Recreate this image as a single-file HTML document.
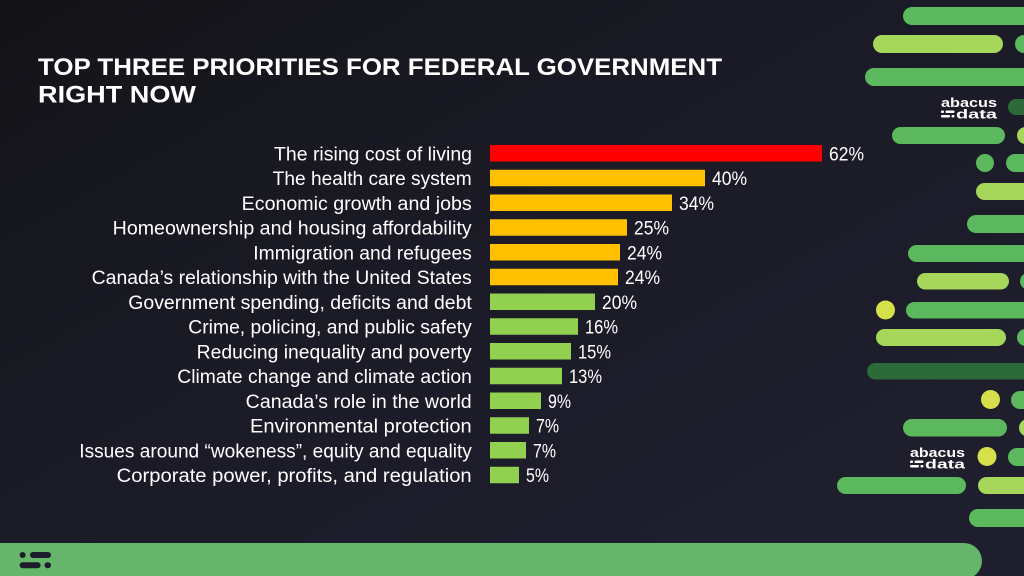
<!DOCTYPE html>
<html>
<head>
<meta charset="utf-8">
<style>
html,body{margin:0;padding:0;width:1024px;height:576px;overflow:hidden;background:#1c1c2a;}
svg{display:block;}
</style>
</head>
<body>
<svg width="1024" height="576" viewBox="0 0 1024 576" xmlns="http://www.w3.org/2000/svg">
  <defs>
    <linearGradient id="bg" x1="0" y1="0" x2="1" y2="1">
      <stop offset="0" stop-color="#131317"/>
      <stop offset="0.45" stop-color="#1b1b27"/>
      <stop offset="1" stop-color="#1f1f2f"/>
    </linearGradient>
  </defs>
  <rect x="0" y="0" width="1024" height="576" fill="url(#bg)"/>

  <!-- Title -->
  <g font-family="'Liberation Sans', sans-serif" font-weight="bold" fill="#ffffff" font-size="24">
    <text x="38" y="75" textLength="684" lengthAdjust="spacingAndGlyphs">TOP THREE PRIORITIES FOR FEDERAL GOVERNMENT</text>
    <text x="38" y="102.5" textLength="158" lengthAdjust="spacingAndGlyphs">RIGHT NOW</text>
  </g>

  <!-- Bars -->
  <g>
    <rect x="490" y="145" width="332" height="16.5" fill="#ff0000"/>
    <rect x="490" y="169.75" width="215" height="16.5" fill="#ffc000"/>
    <rect x="490" y="194.5" width="182" height="16.5" fill="#ffc000"/>
    <rect x="490" y="219.25" width="137" height="16.5" fill="#ffc000"/>
    <rect x="490" y="244" width="130" height="16.5" fill="#ffc000"/>
    <rect x="490" y="268.75" width="128" height="16.5" fill="#ffc000"/>
    <rect x="490" y="293.5" width="105" height="16.5" fill="#92d050"/>
    <rect x="490" y="318.25" width="88" height="16.5" fill="#92d050"/>
    <rect x="490" y="343" width="81" height="16.5" fill="#92d050"/>
    <rect x="490" y="367.75" width="72" height="16.5" fill="#92d050"/>
    <rect x="490" y="392.5" width="51" height="16.5" fill="#92d050"/>
    <rect x="490" y="417.25" width="39" height="16.5" fill="#92d050"/>
    <rect x="490" y="442" width="36" height="16.5" fill="#92d050"/>
    <rect x="490" y="466.75" width="29" height="16.5" fill="#92d050"/>
  </g>

  <!-- Category labels -->
  <g font-family="'Liberation Sans', sans-serif" fill="#ffffff" font-size="19">
    <text x="274" y="160.3" textLength="198" lengthAdjust="spacingAndGlyphs">The rising cost of living</text>
    <text x="272.7" y="185" textLength="199" lengthAdjust="spacingAndGlyphs">The health care system</text>
    <text x="241.7" y="209.8" textLength="230" lengthAdjust="spacingAndGlyphs">Economic growth and jobs</text>
    <text x="112.7" y="234.5" textLength="359" lengthAdjust="spacingAndGlyphs">Homeownership and housing affordability</text>
    <text x="253.3" y="259.3" textLength="218.5" lengthAdjust="spacingAndGlyphs">Immigration and refugees</text>
    <text x="91.7" y="284" textLength="380" lengthAdjust="spacingAndGlyphs">Canada’s relationship with the United States</text>
    <text x="128.3" y="308.8" textLength="343.5" lengthAdjust="spacingAndGlyphs">Government spending, deficits and debt</text>
    <text x="188.3" y="333.5" textLength="283.5" lengthAdjust="spacingAndGlyphs">Crime, policing, and public safety</text>
    <text x="196.7" y="358.3" textLength="275" lengthAdjust="spacingAndGlyphs">Reducing inequality and poverty</text>
    <text x="177.3" y="383" textLength="294.5" lengthAdjust="spacingAndGlyphs">Climate change and climate action</text>
    <text x="245.7" y="407.8" textLength="226" lengthAdjust="spacingAndGlyphs">Canada’s role in the world</text>
    <text x="250" y="432.5" textLength="221.7" lengthAdjust="spacingAndGlyphs">Environmental protection</text>
    <text x="79.3" y="457.3" textLength="392.5" lengthAdjust="spacingAndGlyphs">Issues around “wokeness”, equity and equality</text>
    <text x="116.7" y="482" textLength="355" lengthAdjust="spacingAndGlyphs">Corporate power, profits, and regulation</text>
  </g>

  <!-- Value labels -->
  <g font-family="'Liberation Sans', sans-serif" fill="#ffffff" font-size="19">
    <text x="829" y="160.3" textLength="35" lengthAdjust="spacingAndGlyphs">62%</text>
    <text x="712" y="185" textLength="35" lengthAdjust="spacingAndGlyphs">40%</text>
    <text x="679" y="209.8" textLength="35" lengthAdjust="spacingAndGlyphs">34%</text>
    <text x="634" y="234.5" textLength="35" lengthAdjust="spacingAndGlyphs">25%</text>
    <text x="627" y="259.3" textLength="35" lengthAdjust="spacingAndGlyphs">24%</text>
    <text x="625" y="284" textLength="35" lengthAdjust="spacingAndGlyphs">24%</text>
    <text x="602" y="308.8" textLength="35" lengthAdjust="spacingAndGlyphs">20%</text>
    <text x="585" y="333.5" textLength="33" lengthAdjust="spacingAndGlyphs">16%</text>
    <text x="578" y="358.3" textLength="33" lengthAdjust="spacingAndGlyphs">15%</text>
    <text x="569" y="383" textLength="33" lengthAdjust="spacingAndGlyphs">13%</text>
    <text x="548" y="407.8" textLength="23" lengthAdjust="spacingAndGlyphs">9%</text>
    <text x="536" y="432.5" textLength="23" lengthAdjust="spacingAndGlyphs">7%</text>
    <text x="533" y="457.3" textLength="23" lengthAdjust="spacingAndGlyphs">7%</text>
    <text x="526" y="482" textLength="23" lengthAdjust="spacingAndGlyphs">5%</text>
  </g>

  <!-- Decorative pills -->
  <g>
    <rect x="903" y="7" width="140" height="18" rx="9" fill="#5cb85c"/>
    <rect x="873" y="35" width="130" height="18" rx="9" fill="#a6d65a"/>
    <rect x="1015" y="35" width="30" height="18" rx="9" fill="#5cb85c"/>
    <rect x="865" y="68" width="180" height="18" rx="9" fill="#5cb85c"/>
    <rect x="1008" y="99" width="40" height="16" rx="8" fill="#2d6a3a"/>
    <rect x="892" y="127" width="113" height="17" rx="8.5" fill="#5cb85c"/>
    <rect x="1017" y="127" width="30" height="17" rx="8.5" fill="#a6d65a"/>
    <circle cx="985" cy="163" r="9" fill="#5cb85c"/>
    <rect x="1006" y="154" width="40" height="18" rx="9" fill="#5cb85c"/>
    <rect x="976" y="183" width="70" height="17" rx="8.5" fill="#a6d65a"/>
    <rect x="967" y="215" width="80" height="18" rx="9" fill="#5cb85c"/>
    <rect x="908" y="245" width="140" height="17" rx="8.5" fill="#5cb85c"/>
    <rect x="917" y="273" width="92" height="16.5" rx="8.25" fill="#a6d65a"/>
    <rect x="1020" y="273" width="30" height="16.5" rx="8.25" fill="#5cb85c"/>
    <circle cx="885.5" cy="310" r="9.5" fill="#d6e04a"/>
    <rect x="906" y="302" width="140" height="16.5" rx="8.25" fill="#5cb85c"/>
    <rect x="876" y="329" width="130" height="17" rx="8.5" fill="#a6d65a"/>
    <rect x="1017" y="329" width="30" height="17" rx="8.5" fill="#5cb85c"/>
    <rect x="867" y="363" width="180" height="16.5" rx="8.25" fill="#2d6a3a"/>
    <circle cx="990.5" cy="399.5" r="9.5" fill="#d6e04a"/>
    <rect x="1011" y="391" width="40" height="18" rx="9" fill="#5cb85c"/>
    <rect x="903" y="419" width="104" height="17.5" rx="8.75" fill="#5cb85c"/>
    <rect x="1019" y="419" width="30" height="17.5" rx="8.75" fill="#a6d65a"/>
    <circle cx="987" cy="456.5" r="9.5" fill="#d6e04a"/>
    <rect x="1008" y="448" width="40" height="18" rx="9" fill="#5cb85c"/>
    <rect x="837" y="477" width="129" height="17" rx="8.5" fill="#5cb85c"/>
    <rect x="978" y="477" width="70" height="17" rx="8.5" fill="#a6d65a"/>
    <rect x="969" y="509" width="80" height="18" rx="9" fill="#5cb85c"/>
    <!-- bottom bar -->
    <rect x="-40" y="543" width="1022" height="36" rx="18" fill="#65b56a"/>
  </g>

  <!-- Bottom icon -->
  <g fill="#1c1c2a">
    <rect x="19.6" y="552" width="6" height="6" rx="3"/>
    <rect x="30" y="552" width="21" height="6" rx="3"/>
    <rect x="19.6" y="562.3" width="21" height="6" rx="3"/>
    <rect x="44.5" y="562.3" width="6.5" height="6" rx="3"/>
  </g>

  <!-- Logo 1 -->
  <g fill="#ffffff" font-family="'Liberation Sans', sans-serif" font-weight="bold">
    <text x="941" y="107" font-size="13" textLength="56" lengthAdjust="spacingAndGlyphs">abacus</text>
    <rect x="941" y="110.5" width="3" height="2.5" rx="1"/>
    <rect x="945.5" y="110.5" width="9" height="2.5" rx="1"/>
    <rect x="941" y="115" width="9" height="2.5" rx="1"/>
    <rect x="951.5" y="115" width="3" height="2.5" rx="1"/>
    <text x="956" y="118.3" font-size="13" textLength="41" lengthAdjust="spacingAndGlyphs">data</text>
  </g>
  <!-- Logo 2 -->
  <g fill="#ffffff" font-family="'Liberation Sans', sans-serif" font-weight="bold">
    <text x="910" y="457" font-size="13" textLength="55" lengthAdjust="spacingAndGlyphs">abacus</text>
    <rect x="910" y="460.5" width="3" height="2.5" rx="1"/>
    <rect x="914.5" y="460.5" width="9" height="2.5" rx="1"/>
    <rect x="910" y="465" width="9" height="2.5" rx="1"/>
    <rect x="920.5" y="465" width="3" height="2.5" rx="1"/>
    <text x="925" y="468.3" font-size="13" textLength="40" lengthAdjust="spacingAndGlyphs">data</text>
  </g>
</svg>
</body>
</html>
